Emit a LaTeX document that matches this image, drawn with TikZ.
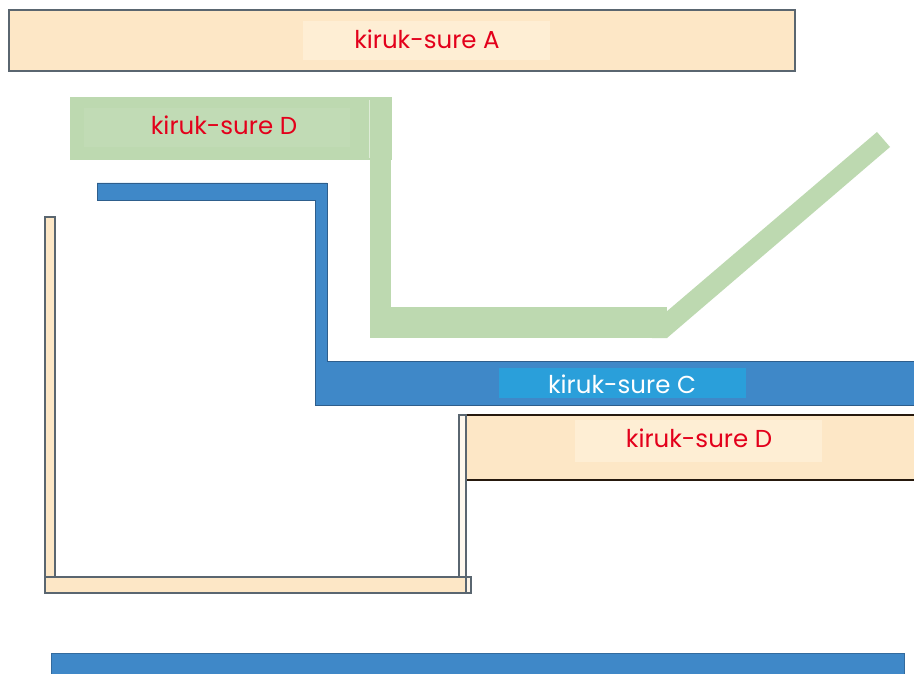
\documentclass[tikz,border=0pt]{standalone}
\usepackage{fontspec}
\setmainfont{Poppins}
\definecolor{peach}{HTML}{FDE7C6}
\definecolor{peachhi}{HTML}{FEEED4}
\definecolor{grn}{HTML}{BDD9B0}
\definecolor{grnhi}{HTML}{C1DBB5}
\definecolor{blu}{HTML}{3F88C8}
\definecolor{bluhi}{HTML}{2A9FDA}
\definecolor{bluedge}{HTML}{2E5E8C}
\definecolor{redtxt}{HTML}{E3001B}
\definecolor{edgegray}{HTML}{5A6670}
\tikzset{
  peachbox/.style={fill=peach,draw=edgegray,line width=1.6pt},
  bluebar/.style={fill=blu,draw=bluedge,line width=0.8pt},
  greenbar/.style={fill=grn,draw=none},
  lbl/.style={font=\fontsize{24.5}{28}\selectfont,inner sep=0pt},
}
\begin{document}
\begin{tikzpicture}[x=1pt,y=-1pt]
\useasboundingbox (0,0) rectangle (914,674);
\fill[white] (0,0) rectangle (914,674);
% box A
\draw[peachbox] (9,10) rectangle (795,71);
\fill[peachhi] (303,21) rectangle (550,60);
\node[lbl,text=redtxt] (la) at (427,39) {kiruk-sure A};
% green D shape
\fill[greenbar] (70,97) rectangle (392,160);
\fill[grnhi] (84,108) rectangle (350,147);
\fill[greenbar] (370,97) rectangle (391,338);
\draw[white!50!grn,line width=0.6pt] (369.5,100) -- (369.5,158);
\fill[greenbar] (370,307) rectangle (667,338);
\fill[greenbar] (652,338) -- (667,338) -- (890,147) -- (877,132) -- (652,324) -- cycle;
\node[lbl,text=redtxt] (ld1) at (224,125) {kiruk-sure D};
% blue C shape
\draw[bluebar] (97,183) -- (327,183) -- (327,361) -- (916,361) -- (916,405) -- (315,405) -- (315,200) -- (97,200) -- cycle;
\fill[bluhi] (499,368) rectangle (746,398);
\node[lbl,text=white] (lc) at (622,384) {kiruk-sure C};
% peach D box
\draw[fill=peach,draw=black!80!brown,line width=1.5pt] (466,415) rectangle (916,480);
\fill[peachhi] (575,420) rectangle (822,462);
\node[lbl,text=redtxt] (ld2) at (699,438) {kiruk-sure D};
% thin frame
\draw[peachbox,line width=1.1pt] (45,217) rectangle (55,583);
\draw[fill=white!70!peach,draw=edgegray,line width=1.1pt] (459,415) rectangle (466,593);
\draw[peachbox,line width=1.1pt] (45,577) rectangle (466,593);
\draw[fill=white!60!peach,draw=edgegray,line width=1.1pt] (466,577) rectangle (471,593);
% bottom blue bar
\draw[fill=blu,draw=bluedge!70!blu,line width=0.6pt] (51,653) rectangle (904,676);
\end{tikzpicture}
\end{document}
